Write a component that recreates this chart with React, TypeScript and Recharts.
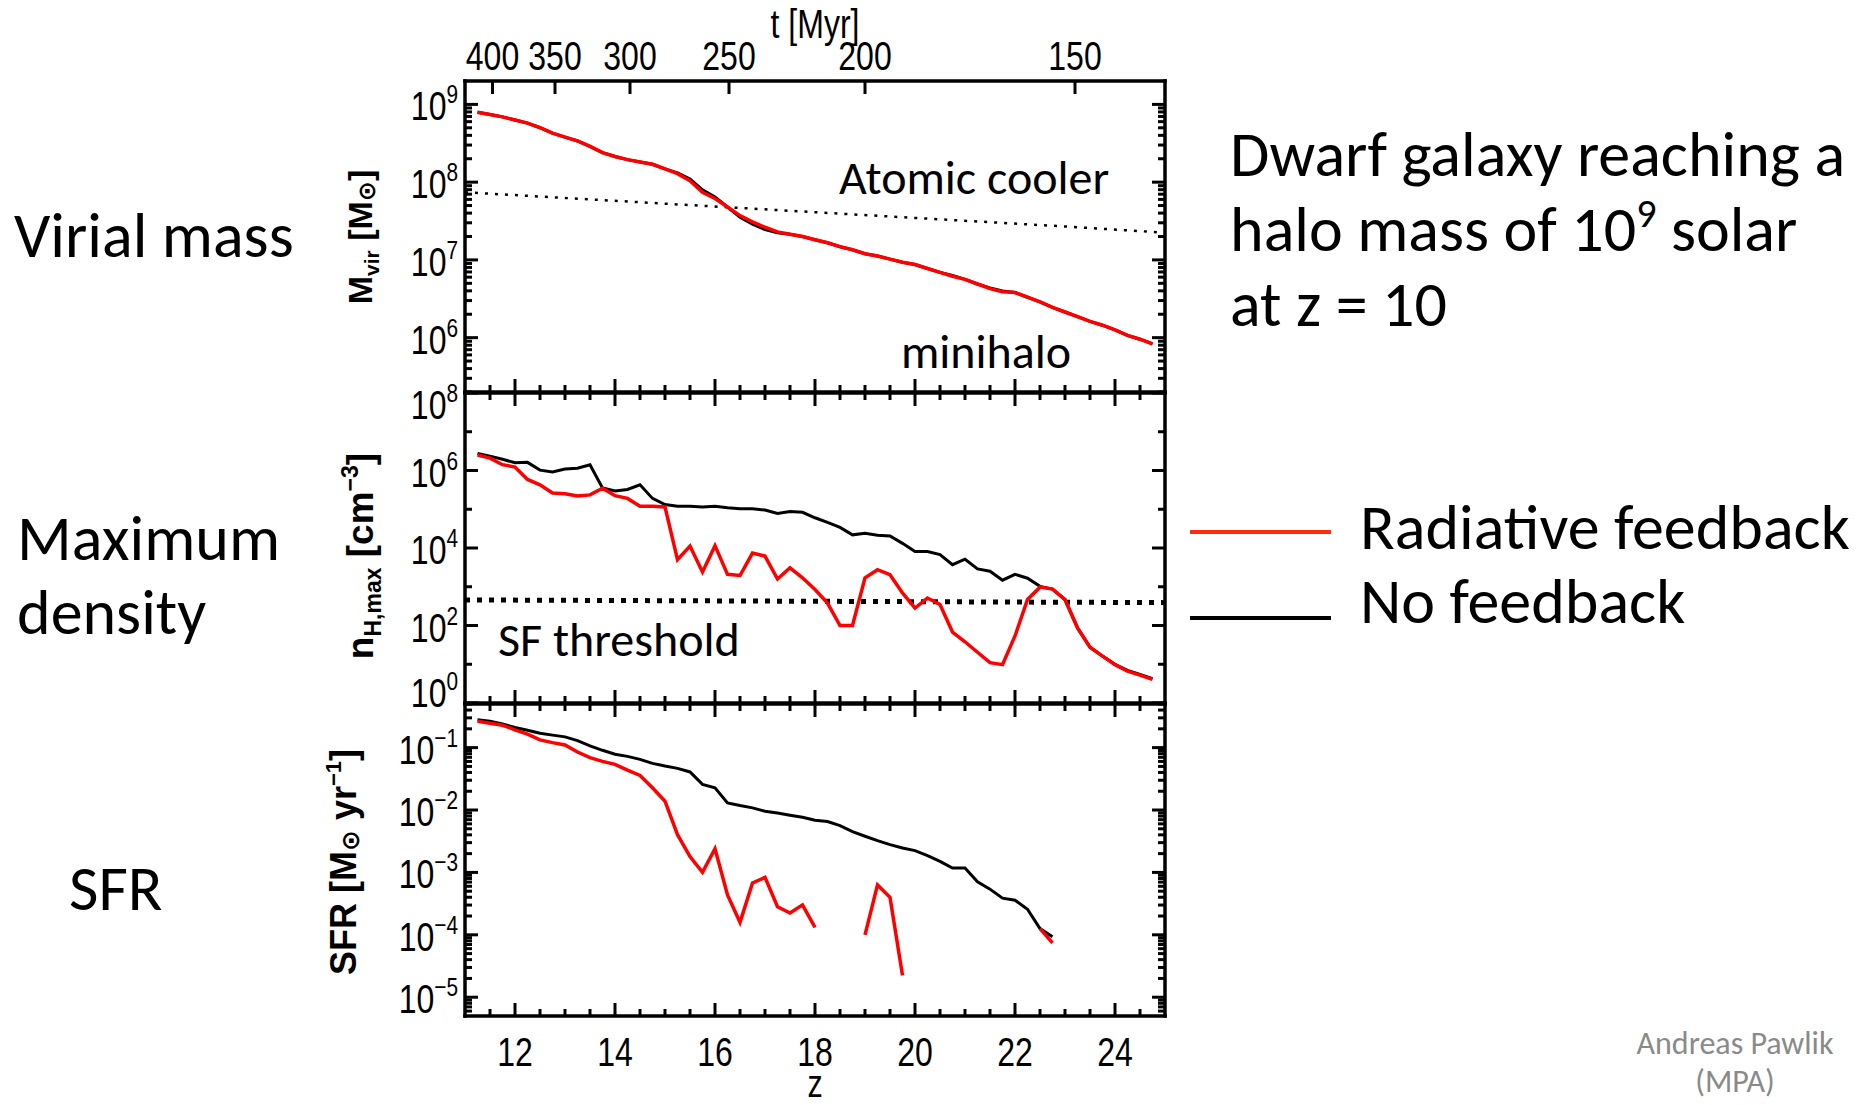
import React from 'react';
import { LineChart, Line, XAxis, YAxis } from 'recharts';

// redshift of the simulation outputs
const zGrid = [
  11.25, 11.5, 11.75, 12, 12.25, 12.5, 12.75, 13, 13.25, 13.5, 13.75, 14, 14.25, 14.5, 14.75,
  15, 15.25, 15.5, 15.75, 16, 16.25, 16.5, 16.75, 17, 17.25, 17.5, 17.75, 18, 18.25, 18.5,
  18.75, 19, 19.25, 19.5, 19.75, 20, 20.25, 20.5, 20.75, 21, 21.25, 21.5, 21.75, 22, 22.25,
  22.5, 22.75, 23, 23.25, 23.5, 23.75, 24, 24.25, 24.5, 24.75,
];

// log10 M_vir [M_sun]
const mvirRadiative = [
  8.90, 8.87, 8.84, 8.80, 8.76, 8.70, 8.63, 8.58, 8.53, 8.46, 8.38, 8.33, 8.29, 8.26, 8.23,
  8.17, 8.11, 8.02, 7.87, 7.79, 7.68, 7.57, 7.49, 7.42, 7.36, 7.33, 7.30, 7.26, 7.22, 7.17,
  7.13, 7.08, 7.05, 7.01, 6.97, 6.94, 6.89, 6.84, 6.79, 6.75, 6.69, 6.63, 6.59, 6.58, 6.52,
  6.46, 6.39, 6.33, 6.27, 6.21, 6.16, 6.10, 6.03, 5.98, 5.92,
];
const mvirNoFeedback = [
  8.90, 8.87, 8.84, 8.80, 8.76, 8.70, 8.63, 8.58, 8.53, 8.46, 8.38, 8.33, 8.29, 8.26, 8.23,
  8.17, 8.12, 8.04, 7.90, 7.81, 7.68, 7.55, 7.46, 7.39, 7.35, 7.33, 7.30, 7.26, 7.22, 7.17,
  7.13, 7.08, 7.05, 7.01, 6.97, 6.94, 6.89, 6.84, 6.80, 6.75, 6.69, 6.64, 6.60, 6.58, 6.52,
  6.46, 6.39, 6.33, 6.27, 6.21, 6.16, 6.10, 6.03, 5.98, 5.92,
];
// atomic cooling limit (dotted)
const coolerZ = [11, 14, 17, 20, 23, 25];
const coolerMass = [7.87, 7.76, 7.65, 7.54, 7.43, 7.35];

// log10 n_H,max [cm^-3]
const densRadiative = [
  6.40, 6.32, 6.15, 6.09, 5.77, 5.63, 5.42, 5.40, 5.34, 5.37, 5.54, 5.35, 5.28, 5.08, 5.08,
  5.06, 3.70, 4.05, 3.38, 4.06, 3.32, 3.29, 3.87, 3.79, 3.20, 3.49, 3.23, 2.93, 2.58, 2.00,
  2.00, 3.23, 3.44, 3.31, 2.84, 2.45, 2.71, 2.54, 1.83, 1.58, 1.31, 1.04, 0.99, 1.73, 2.67,
  2.99, 2.94, 2.67, 1.94, 1.44, 1.21, 0.99, 0.82, 0.72, 0.61,
];
const densNoFeedback = [
  6.44, 6.37, 6.29, 6.20, 6.21, 6.01, 5.96, 6.04, 6.06, 6.15, 5.55, 5.47, 5.51, 5.63, 5.28,
  5.12, 5.08, 5.08, 5.06, 5.08, 5.04, 5.01, 5.01, 4.98, 4.89, 4.94, 4.92, 4.78, 4.66, 4.53,
  4.34, 4.38, 4.33, 4.31, 4.12, 3.91, 3.91, 3.83, 3.57, 3.71, 3.46, 3.40, 3.17, 3.32, 3.22,
  3.01, 2.94, 2.67, 1.94, 1.44, 1.21, 1.00, 0.84, 0.74, 0.63,
];
// star formation threshold (dotted)
const thresholdZ = [11, 25];
const thresholdDens = [2.66, 2.59];

// log10 SFR [M_sun / yr], null where no stars form
const sfrRadiative = [
  -0.576, -0.608, -0.64, -0.716, -0.785, -0.877, -0.92, -0.957, -1.07, -1.161, -1.22, -1.268, -1.36, -1.445, -1.644,
  -1.859, -2.396, -2.745, -2.997, -2.62, -3.36, -3.8, -3.17, -3.08, -3.55, -3.65, -3.52, -3.88, null, null,
  null, -4.0, -3.2, -3.4, -4.65, null, null, null, null, null, null, null, null, null, null,
  -3.9, -4.13, null, null, null, null, null, null, null, null,
];
const sfrNoFeedback = [
  -0.555, -0.576, -0.619, -0.678, -0.721, -0.769, -0.8, -0.828, -0.887, -0.973, -1.043, -1.107, -1.14, -1.188, -1.252,
  -1.295, -1.333, -1.39, -1.59, -1.644, -1.886, -1.929, -1.966, -2.02, -2.047, -2.084, -2.117, -2.165, -2.185, -2.249,
  -2.346, -2.42, -2.49, -2.555, -2.609, -2.65, -2.732, -2.823, -2.93, -2.93, -3.15, -3.268, -3.413, -3.445, -3.59,
  -3.9, -4.03, null, null, null, null, null, null, null, null,
];

// axes
const zTicks = [
  11.5, 12, 12.5, 13, 13.5, 14, 14.5, 15, 15.5, 16, 16.5, 17, 17.5, 18, 18.5,
  19, 19.5, 20, 20.5, 21, 21.5, 22, 22.5, 23, 23.5, 24, 24.5,
];
const tTickZ = [11.55, 12.8, 14.3, 16.28, 19.0, 23.2];
const tTickLabels = ['400', '350', '300', '250', '200', '150'];
const mvirDecades = [6, 7, 8, 9];
const densTicks = [0, 1, 2, 3, 4, 5, 6, 7, 8];
const sfrDecades = [-5, -4, -3, -2, -1];

const Z_DOMAIN: [number, number] = [11, 25];
const MVIR_DOMAIN: [number, number] = [5.301, 9.301];
const DENS_DOMAIN: [number, number] = [0, 8];
const SFR_DOMAIN: [number, number] = [-5.301, -0.301];

const logMinor = (lo: number, hi: number) => {
  const out: number[] = [];
  for (let n = Math.floor(lo); n < hi; n++) {
    for (let k = 2; k <= 9; k++) {
      const v = n + Math.log10(k);
      if (v > lo && v < hi) out.push(v);
    }
  }
  return out;
};

const RED = '#ff0000';
const IDL_FONT = "'Liberation Sans', Arial, 'DejaVu Sans', sans-serif";
const SLIDE_FONT = "Carlito, Calibri, Lato, 'Open Sans', sans-serif";
const SQUEEZE = 0.8;
const W = 1200;
const PLOT_LEFT = 465;
const PLOT_RIGHT = 1165;
const LEFT_W = 120;
const RIGHT_W = 4;
const frame: any = { stroke: '#000', strokeWidth: 3.5, strokeLinecap: 'square' };

const IdlText = ({ x, y, anchor, size = 40, children }: any) => (
  <text
    transform={`translate(${x},${y}) scale(${SQUEEZE},1)`}
    textAnchor={anchor}
    fontFamily={IDL_FONT}
    fontSize={size}
    fill="#000"
  >
    {children}
  </text>
);

const expText = (e: number) => (e < 0 ? `\u2212${-e}` : `${e}`);

const evenZ = (v: number) => Number.isInteger(v) && v % 2 === 0;

// ticks point inward, IDL style
const yTick = (side: 'left' | 'right', domain: [number, number], labelled: boolean, isMajor: (v: number) => boolean) =>
  (p: any) => {
    const v = p.payload.value;
    const major = isMajor(v);
    const len = major ? 13 : 7;
    const dir = side === 'left' ? 1 : -1;
    let shift = 0;
    if (v >= domain[1] - 0.01) shift = 10;
    if (v <= domain[0] + 0.01) shift = -12;
    const e = Math.round(v);
    return (
      <g>
        <line x1={p.x} x2={p.x + dir * len} y1={p.y} y2={p.y} stroke="#000" strokeWidth={3} />
        {labelled && major && (
          <IdlText x={p.x - 7} y={p.y + 16 + shift} anchor="end">
            10<tspan dy={-17} fontSize={26}>{expText(e)}</tspan>
          </IdlText>
        )}
      </g>
    );
  };

const xTick = (side: 'top' | 'bottom', labelled: boolean, isMajor: (v: number) => boolean, label?: (v: number) => string) =>
  (p: any) => {
    const v = p.payload.value;
    const major = isMajor(v);
    const len = major ? 13 : 7;
    const dir = side === 'top' ? 1 : -1;
    return (
      <g>
        <line x1={p.x} x2={p.x} y1={p.y} y2={p.y + dir * len} stroke="#000" strokeWidth={3} />
        {labelled && major && (
          <IdlText x={p.x} y={side === 'top' ? p.y - 11 : p.y + 50} anchor="middle">
            {label ? label(v) : String(v)}
          </IdlText>
        )}
      </g>
    );
  };

const tLabel = (v: number) => tTickLabels[tTickZ.indexOf(v)] ?? '';

const Panel = ({ top, topH, plotH, bottomH, data, yDomain, yTicks, yMajor, topTicks, topTick, bottomTick, children }: any) => (
  <div style={{ position: 'absolute', left: 0, top }}>
    <LineChart
      width={W}
      height={topH + plotH + bottomH}
      data={data}
      margin={{ top: 0, right: W - PLOT_RIGHT - RIGHT_W, bottom: 0, left: PLOT_LEFT - LEFT_W }}
    >
      <XAxis
        xAxisId="b" orientation="bottom" type="number" dataKey="z" domain={Z_DOMAIN} allowDataOverflow
        ticks={zTicks} interval={0} tickSize={0} tickMargin={0} tickLine={false} axisLine={frame}
        height={bottomH} tick={bottomTick}
      />
      <XAxis
        xAxisId="t" orientation="top" type="number" dataKey="z" domain={Z_DOMAIN} allowDataOverflow
        ticks={topTicks} interval={0} tickSize={0} tickMargin={0} tickLine={false} axisLine={frame}
        height={topH} tick={topTick}
      />
      <YAxis
        yAxisId="l" orientation="left" type="number" domain={yDomain} allowDataOverflow
        ticks={yTicks} interval={0} tickSize={0} tickMargin={0} tickLine={false} axisLine={frame}
        width={LEFT_W} tick={yTick('left', yDomain, true, yMajor)}
      />
      <YAxis
        yAxisId="r" orientation="right" type="number" domain={yDomain} allowDataOverflow
        ticks={yTicks} interval={0} tickSize={0} tickMargin={0} tickLine={false} axisLine={frame}
        width={RIGHT_W} tick={yTick('right', yDomain, false, yMajor)}
      />
      {children}
    </LineChart>
  </div>
);

const massRows = zGrid.map((z, i) => ({ z, rad: mvirRadiative[i], no: mvirNoFeedback[i] }));
const coolerRows = coolerZ.map((z, i) => ({ z, v: coolerMass[i] }));
const densRows = zGrid.map((z, i) => ({ z, rad: densRadiative[i], no: densNoFeedback[i] }));
const thresholdRows = thresholdZ.map((z, i) => ({ z, v: thresholdDens[i] }));
const sfrRows = zGrid.map((z, i) => ({ z, rad: sfrRadiative[i], no: sfrNoFeedback[i] }));

const isInt = (v: number) => Number.isInteger(v);
const isEven = (v: number) => Number.isInteger(v) && v % 2 === 0;

const mvirTicks = [...logMinor(MVIR_DOMAIN[0], MVIR_DOMAIN[1]), ...mvirDecades];
const sfrTicks = [...logMinor(SFR_DOMAIN[0], SFR_DOMAIN[1]), ...sfrDecades];

const series = (id: string, color: string, width: number) => ({
  xAxisId: 'b', yAxisId: 'l', dataKey: id, stroke: color, strokeWidth: width,
  dot: false, activeDot: false, isAnimationActive: false, type: 'linear' as const,
});

const App = () => (
  <div style={{ position: 'absolute', left: 0, top: 0, width: 1860, height: 1105, background: '#fff', overflow: 'hidden' }}>
    {/* Virial mass */}
    <Panel
      top={0} topH={81} plotH={311} bottomH={30} data={massRows}
      yDomain={MVIR_DOMAIN} yTicks={mvirTicks} yMajor={isInt}
      topTicks={tTickZ} topTick={xTick('top', true, () => true, tLabel)}
      bottomTick={xTick('bottom', false, evenZ)}
    >
      <Line {...series('v', '#000', 2.5)} data={coolerRows} strokeDasharray="3 7" />
      <Line {...series('no', '#000', 3)} />
      <Line {...series('rad', RED, 3.5)} />
    </Panel>

    {/* Maximum density */}
    <Panel
      top={363} topH={30} plotH={310} bottomH={30} data={densRows}
      yDomain={DENS_DOMAIN} yTicks={densTicks} yMajor={isEven}
      topTicks={zTicks} topTick={xTick('top', false, evenZ)}
      bottomTick={xTick('bottom', false, evenZ)}
    >
      <Line {...series('v', '#000', 5)} data={thresholdRows} strokeDasharray="5 7" />
      <Line {...series('no', '#000', 3)} />
      <Line {...series('rad', RED, 3.5)} />
    </Panel>

    {/* SFR */}
    <Panel
      top={674} topH={30} plotH={312} bottomH={89} data={sfrRows}
      yDomain={SFR_DOMAIN} yTicks={sfrTicks} yMajor={isInt}
      topTicks={zTicks} topTick={xTick('top', false, evenZ)}
      bottomTick={xTick('bottom', true, evenZ)}
    >
      <Line {...series('no', '#000', 3)} connectNulls={false} />
      <Line {...series('rad', RED, 3.5)} connectNulls={false} />
    </Panel>

    <svg width={1860} height={1105} style={{ position: 'absolute', left: 0, top: 0, pointerEvents: 'none' }}>
      {/* axis titles */}
      <IdlText x={815} y={38} anchor="middle" size={40}>t  [Myr]</IdlText>
      <IdlText x={815} y={1097} anchor="middle" size={38}>z</IdlText>
      <g fontFamily={IDL_FONT} fontWeight="bold" fontSize={34} fill="#000">
        <text transform="translate(372,237) rotate(-90)" textAnchor="middle">
          M<tspan fontSize={21} dy={7}>vir</tspan><tspan dy={-7}>  [M</tspan><tspan fontSize={24} dy={3}>⊙</tspan><tspan dy={-3}>]</tspan>
        </text>
        <text transform="translate(373,556) rotate(-90)" textAnchor="middle" fontSize={37}>
          n<tspan fontSize={23} dy={8}>H,max</tspan><tspan dy={-8}>  [cm</tspan><tspan fontSize={23} dy={-15}>−3</tspan><tspan dy={15}>]</tspan>
        </text>
        <text transform="translate(356,862) rotate(-90)" textAnchor="middle" fontSize={36}>
          SFR  [M<tspan fontSize={25} dy={3}>⊙</tspan><tspan dy={-3}> yr</tspan><tspan fontSize={22} dy={-15}>−1</tspan><tspan dy={15}>]</tspan>
        </text>
      </g>

      {/* in-plot notes */}
      <g fontFamily={SLIDE_FONT} fontSize={48} fill="#000">
        <text x={839} y={194}>Atomic cooler</text>
        <text x={901} y={368}>minihalo</text>
        <text x={498} y={656}>SF threshold</text>
      </g>

      {/* row labels */}
      <g fontFamily={SLIDE_FONT} fontSize={64} fill="#000">
        <text x={14} y={257}>Virial mass</text>
        <text x={17} y={560}>Maximum</text>
        <text x={17} y={634}>density</text>
        <text x={69} y={910}>SFR</text>
      </g>

      {/* description */}
      <g fontFamily={SLIDE_FONT} fontSize={64} fill="#000">
        <text x={1230} y={176}>Dwarf galaxy reaching a</text>
        <text x={1230} y={251}>
          halo mass of 10<tspan fontSize={40} dy={-24}>9</tspan><tspan dy={24}> solar</tspan>
        </text>
        <text x={1230} y={326}>at z = 10</text>
      </g>

      {/* legend */}
      <line x1={1190} x2={1331} y1={532} y2={532} stroke="#ff2b10" strokeWidth={4} />
      <line x1={1190} x2={1331} y1={618} y2={618} stroke="#000" strokeWidth={4} />
      <g fontFamily={SLIDE_FONT} fontSize={64} fill="#000">
        <text x={1360} y={549}>Radiative feedback</text>
        <text x={1360} y={623}>No feedback</text>
      </g>

      <g fontFamily={SLIDE_FONT} fontSize={32} fill="#8a8a8a" textAnchor="middle">
        <text x={1735} y={1054}>Andreas Pawlik</text>
        <text x={1735} y={1092}>(MPA)</text>
      </g>
    </svg>
  </div>
);

export default App;
